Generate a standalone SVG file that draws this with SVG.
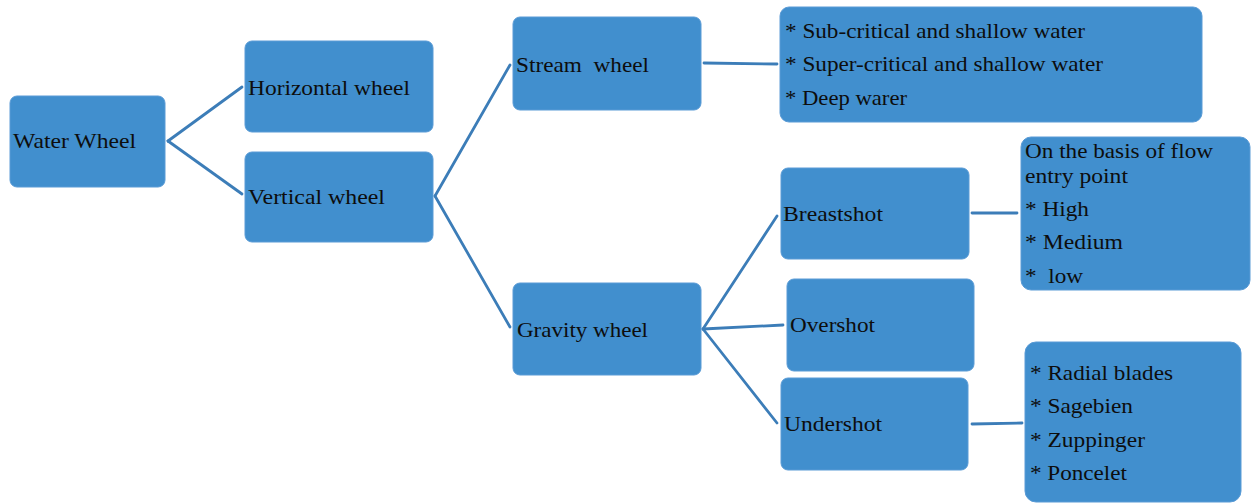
<svg xmlns="http://www.w3.org/2000/svg" width="1259" height="504" viewBox="0 0 1259 504">
<style>
.box{fill:#418FCE;stroke:#5A9BD6;stroke-width:1}
.t{font-family:"Liberation Serif","Times New Roman",serif;font-size:22px;fill:#0d0d0d;white-space:pre}
.c{stroke:#3C7DB8;stroke-width:2.8;fill:none;stroke-linecap:round}
</style>
<rect width="1259" height="504" fill="#fff"/>
<g id="connectors">
<line class="c" x1="168" y1="141" x2="242" y2="87"/>
<line class="c" x1="168" y1="141" x2="242" y2="194"/>
<line class="c" x1="435" y1="196" x2="510" y2="65"/>
<line class="c" x1="435" y1="196" x2="510" y2="327"/>
<line class="c" x1="704" y1="63" x2="777" y2="64"/>
<line class="c" x1="703" y1="329" x2="777" y2="216"/>
<line class="c" x1="703" y1="329" x2="783" y2="325"/>
<line class="c" x1="703" y1="329" x2="777" y2="423"/>
<line class="c" x1="972" y1="213" x2="1017" y2="213"/>
<line class="c" x1="972" y1="424" x2="1022" y2="423"/>
</g>
<g id="water-wheel">
<rect class="box" x="10" y="96" width="155" height="91" rx="7"/>
<text class="t" x="13" y="148" textLength="123" lengthAdjust="spacingAndGlyphs">Water Wheel</text>
</g>
<g id="horizontal-wheel">
<rect class="box" x="245" y="41" width="188" height="91" rx="7"/>
<text class="t" x="248" y="95" textLength="162" lengthAdjust="spacingAndGlyphs">Horizontal wheel</text>
</g>
<g id="vertical-wheel">
<rect class="box" x="245" y="152" width="188" height="90" rx="7"/>
<text class="t" x="248" y="204" textLength="137" lengthAdjust="spacingAndGlyphs">Vertical wheel</text>
</g>
<g id="stream-wheel">
<rect class="box" x="513" y="17" width="188" height="93" rx="7"/>
<text class="t" x="516" y="72" textLength="133" lengthAdjust="spacingAndGlyphs">Stream  wheel</text>
</g>
<g id="stream-types">
<rect class="box" x="780" y="7" width="422" height="115" rx="9"/>
<text class="t" x="785" y="38" textLength="300" lengthAdjust="spacingAndGlyphs">* Sub-critical and shallow water</text>
<text class="t" x="785" y="71" textLength="318" lengthAdjust="spacingAndGlyphs">* Super-critical and shallow water</text>
<text class="t" x="785" y="105" textLength="122" lengthAdjust="spacingAndGlyphs">* Deep warer</text>
</g>
<g id="breastshot">
<rect class="box" x="781" y="168" width="188" height="91" rx="7"/>
<text class="t" x="783" y="221" textLength="100" lengthAdjust="spacingAndGlyphs">Breastshot</text>
</g>
<g id="breastshot-types">
<rect class="box" x="1021" y="137" width="229" height="153" rx="10"/>
<text class="t" x="1025" y="158" textLength="188" lengthAdjust="spacingAndGlyphs">On the basis of flow</text>
<text class="t" x="1025" y="183" textLength="103" lengthAdjust="spacingAndGlyphs">entry point</text>
<text class="t" x="1025" y="216" textLength="64" lengthAdjust="spacingAndGlyphs">* High</text>
<text class="t" x="1025" y="249" textLength="98" lengthAdjust="spacingAndGlyphs">* Medium</text>
<text class="t" x="1025" y="283" textLength="58" lengthAdjust="spacingAndGlyphs">*  low</text>
</g>
<g id="gravity-wheel">
<rect class="box" x="513" y="283" width="188" height="92" rx="7"/>
<text class="t" x="517" y="337" textLength="131" lengthAdjust="spacingAndGlyphs">Gravity wheel</text>
</g>
<g id="overshot">
<rect class="box" x="787" y="279" width="187" height="92" rx="7"/>
<text class="t" x="790" y="332" textLength="85" lengthAdjust="spacingAndGlyphs">Overshot</text>
</g>
<g id="undershot">
<rect class="box" x="781" y="378" width="187" height="92" rx="7"/>
<text class="t" x="784" y="431" textLength="98" lengthAdjust="spacingAndGlyphs">Undershot</text>
</g>
<g id="undershot-types">
<rect class="box" x="1025" y="342" width="216" height="160" rx="11"/>
<text class="t" x="1030" y="380" textLength="143" lengthAdjust="spacingAndGlyphs">* Radial blades</text>
<text class="t" x="1030" y="413" textLength="103" lengthAdjust="spacingAndGlyphs">* Sagebien</text>
<text class="t" x="1030" y="447" textLength="115" lengthAdjust="spacingAndGlyphs">* Zuppinger</text>
<text class="t" x="1030" y="480" textLength="97" lengthAdjust="spacingAndGlyphs">* Poncelet</text>
</g>
</svg>
